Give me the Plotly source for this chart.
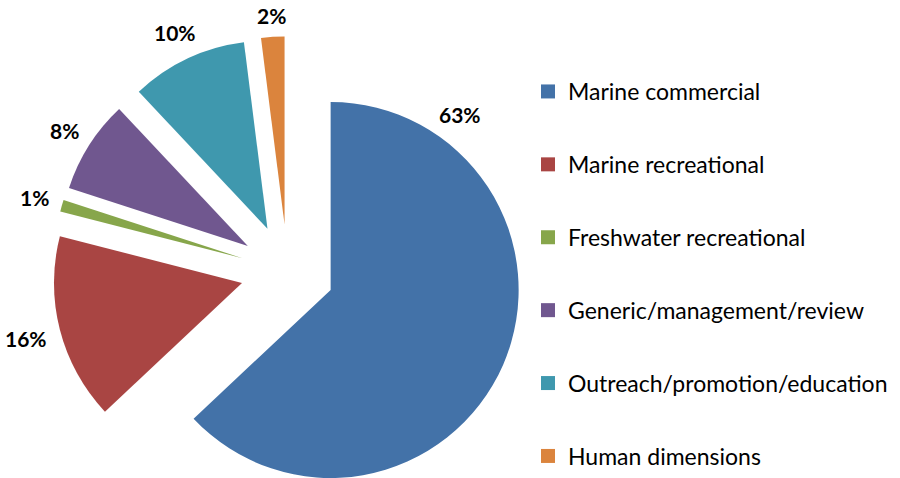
import math
import plotly.graph_objects as go

# ---- data ----
categories = ["Marine commercial", "Marine recreational", "Freshwater recreational",
              "Generic/management/review", "Outreach/promotion/education", "Human dimensions"]
values = [63, 16, 1, 8, 10, 2]
colors = ["#4372A8", "#A94543", "#87A64B", "#70578F", "#3F98AE", "#DB843D"]

# ---- layout parameters (pixels) ----
W, H = 900, 478
R = 188            # pie radius
PULL = 47          # explode distance
CX, CY = 287.5, 271.3   # unexploded pie centre
LABEL_GAP = 12

fig = go.Figure()
total = sum(values)
start = 0.0
for i, (cat, v, c) in enumerate(zip(categories, values, colors)):
    frac = v / total
    mid = (start + frac / 2) * 2 * math.pi   # clockwise from 12 o'clock
    start += frac
    dx, dy = math.sin(mid), -math.cos(mid)
    cx = CX + PULL * dx
    cy = CY + PULL * dy
    x0, x1 = (cx - R) / W, (cx + R) / W
    y0, y1 = 1 - (cy + R) / H, 1 - (cy - R) / H
    x0, x1 = max(0, x0), min(1, x1)
    y0, y1 = max(0, y0), min(1, y1)
    mc = [col if j == i else "rgba(0,0,0,0)" for j, col in enumerate(colors)]
    fig.add_trace(go.Pie(
        labels=categories, values=values, sort=False, direction="clockwise",
        rotation=0, marker=dict(colors=mc, line=dict(width=0)),
        textinfo="none", showlegend=False, hoverinfo="label+percent",
        domain=dict(x=[x0, x1], y=[y0, y1]),
    ))
    label = f"{v}%"
    if i == 0:
        lx, ly = 460, 114   # source places the big slice label at top right
    else:
        hw = (15 * (len(label) - 1) + 14) / 2
        hh = 8
        dist = R + LABEL_GAP + hw * abs(dx) + hh * abs(dy)
        lx, ly = cx + dist * dx, cy + dist * dy
    fig.add_annotation(x=lx / W, y=1 - ly / H, xref="paper", yref="paper",
                       xanchor="center", yanchor="middle",
                       text=label, showarrow=False,
                       font=dict(family="Lato", size=21, color="black", weight="bold"))

# legend via proxy traces
for i, (cat, c) in enumerate(zip(categories, colors)):
    fig.add_trace(go.Scatter(x=[None], y=[None], mode="markers", name=cat,
                             legendgroup=f"g{i}",
                             marker=dict(symbol="square", size=14, color=c)))

fig.update_layout(
    width=W, height=H,
    margin=dict(l=0, r=0, t=0, b=0),
    paper_bgcolor="white", plot_bgcolor="white",
    xaxis=dict(visible=False), yaxis=dict(visible=False),
    legend=dict(x=528 / W, y=0, xanchor="left", yanchor="bottom",
                font=dict(family="Lato", size=23, color="black"),
                tracegroupgap=40, bgcolor="rgba(0,0,0,0)"),
)

fig.write_html("out.html", config={"displayModeBar": False},
               post_script="document.body.style.margin='0';")
